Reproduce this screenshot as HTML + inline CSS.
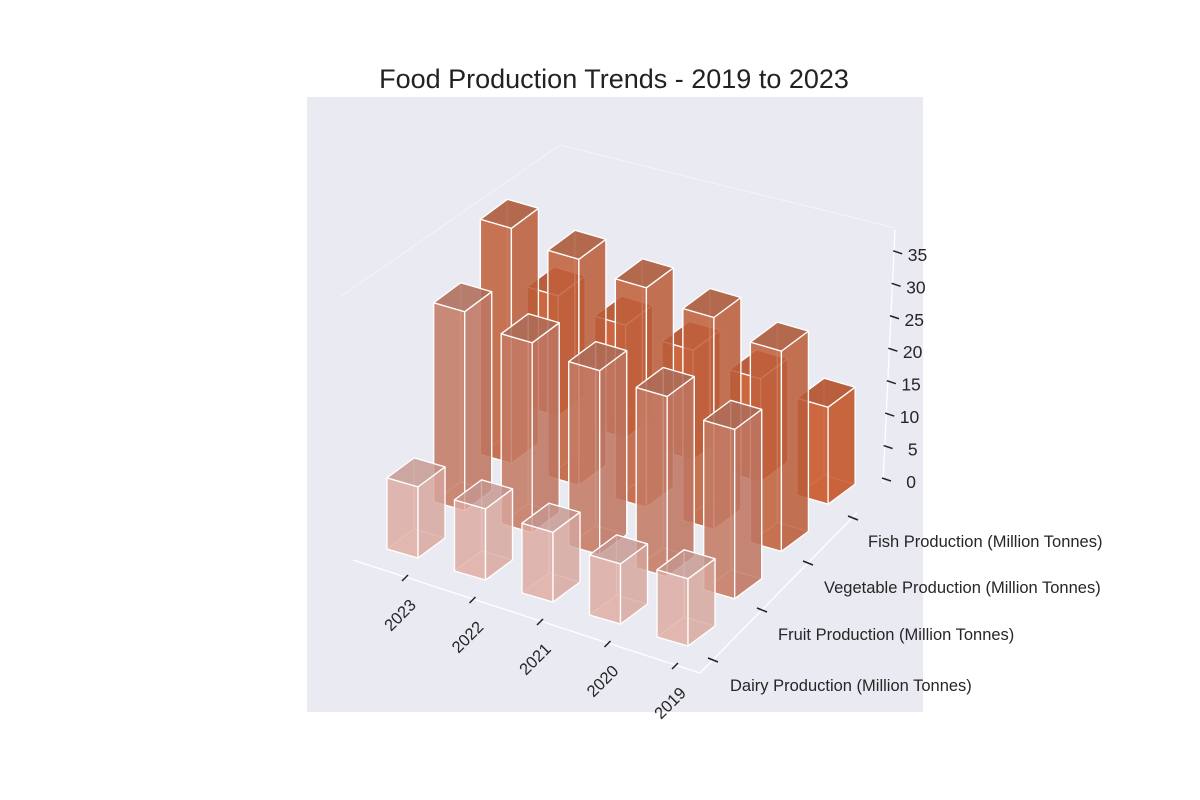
<!DOCTYPE html>
<html><head><meta charset="utf-8"><style>
body{margin:0;background:#fff;}
svg{display:block;font-family:"Liberation Sans",Arial,sans-serif;}
</style></head><body>
<svg width="1200" height="800" viewBox="0 0 1200 800">
<rect x="307" y="97" width="616" height="615" fill="#eaeaf2"/>
<text x="614" y="88" font-size="27" text-anchor="middle" fill="#222">Food Production Trends - 2019 to 2023</text>
<g id="grid" stroke="#f4f4f8" stroke-width="1" fill="none">
<polyline points="340,297 560,145 895,228"/>
</g>
<g id="axes"></g>
<g id="bars"></g>
<g id="labels"></g>
</svg>
<script>
const years = ["2023","2022","2021","2020","2019"];
const categories = ["Dairy Production (Million Tonnes)","Fruit Production (Million Tonnes)","Vegetable Production (Million Tonnes)","Fish Production (Million Tonnes)"];
const dairy = [11, 11, 10.8, 9.3, 10.4];
const fruit = [30.8, 29.4, 28.5, 27.9, 26.2];
const vegetable = [36.4, 35, 34, 32.8, 31];
const fish = [18.6, 17.5, 17, 16, 15];
const zTicks = [0,5,10,15,20,25,30,35];

const series = [dairy, fruit, vegetable, fish];
const rowFill = [[222,170,160],[196,122,100],[192,96,60],[200,82,36]];
const NS = "http://www.w3.org/2000/svg";
const ex = [67.5, 22], ey = [46.7, -47.3], wx = [31, 9], wy = [27, -20], zs = 6.46;
function base(i, j){ return [418 + i*ex[0] + j*ey[0], 558 + i*ex[1] + j*ey[1]]; }
function pt(p, h){ return [p[0], p[1] - h*zs]; }
function poly(g, pts, fill, stroke, op, name){
  const e = document.createElementNS(NS, "polygon");
  e.setAttribute("points", pts.map(p => p[0].toFixed(1)+","+p[1].toFixed(1)).join(" "));
  e.setAttribute("fill", fill);
  e.setAttribute("fill-opacity", op);
  e.setAttribute("stroke", stroke);
  e.setAttribute("stroke-width", "1.3");
  e.setAttribute("stroke-linejoin", "round");
  
  
  g.appendChild(e);
}
function shade(c, f){ return "rgb(" + c.map(v => Math.min(255, Math.round(v*f))).join(",") + ")"; }
const bars = document.getElementById("bars");
for (let j = 3; j >= 0; j--) {
  for (let i = 0; i < 5; i++) {
    const h = series[j][i];
    const F = base(i, j);
    const L = [F[0]-wx[0], F[1]-wx[1]];
    const R = [F[0]+wy[0], F[1]+wy[1]];
    const B = [L[0]+wy[0], L[1]+wy[1]];
    const g = document.createElementNS(NS, "g");
    
    
    bars.appendChild(g);
    const c = rowFill[j];
    const st = "rgba(255,255,255,0.6)";
    const op = j === 0 ? 0.72 : 0.8;
    poly(g, [L,F,R,B], shade(c,1.05), st, op*0.5, 'bar-bottom');
    poly(g, [L,B,pt(B,h),pt(L,h)], shade(c,0.95), st, op*0.4, 'bar-left-back');
    poly(g, [B,R,pt(R,h),pt(B,h)], shade(c,0.95), st, op*0.4, 'bar-back');
    poly(g, [L,F,pt(F,h),pt(L,h)], shade(c,1.0), "#fff", op, 'bar-front');
    poly(g, [F,R,pt(R,h),pt(F,h)], shade(c,0.97), "#fff", op, 'bar-side');
    poly(g, [pt(L,h),pt(F,h),pt(R,h),pt(B,h)], shade(c,0.88), "#fff", op, 'bar-top');
  }
}
const axes = document.getElementById("axes");
function line(g, x1,y1,x2,y2, col, w, name){
  const e = document.createElementNS(NS, "line");
  e.setAttribute("x1",x1); e.setAttribute("y1",y1); e.setAttribute("x2",x2); e.setAttribute("y2",y2);
  e.setAttribute("stroke",col); e.setAttribute("stroke-width",w);
  
  
  g.appendChild(e);
}
line(axes, 353,560,700,673,"#fff",1.3,'x-axis-line');
line(axes, 700,673,857,513,"#fff",1.3,'y-axis-line');
line(axes, 883,483,895,230,"#fff",1.3,'z-axis-line');
const labels = document.getElementById("labels");
function text(x,y,s,size,anchor,rot,name){
  const e = document.createElementNS(NS, "text");
  e.setAttribute("x",x); e.setAttribute("y",y);
  e.setAttribute("font-size",size); e.setAttribute("text-anchor",anchor);
  e.setAttribute("fill","#262626");
  if (rot) e.setAttribute("transform","rotate("+rot+" "+x+" "+y+")");
  e.textContent = s;
  
  
  labels.appendChild(e);
}
years.forEach((y,i) => {
  const tx = 405 + i*ex[0], ty = 578 + i*ex[1];
  line(labels, tx-3,ty+3,tx+3,ty-3,"#222",1.5,'x-tick');
  text(tx+12, ty+28, y, 16.5, "end", -45, 'x-tick-label');
});
const catTick = [[713,660],[762,610],[808,563],[853,518]];
const catLab = [[730,691],[778,640],[824,593],[868,547]];
categories.forEach((c,j) => {
  const [tx,ty] = catTick[j];
  line(labels, tx-5,ty-2,tx+5,ty+2,"#222",1.5,'y-tick');
  text(catLab[j][0], catLab[j][1], c, 16.5, "start", 0, 'y-tick-label');
});
zTicks.forEach(v => {
  const y = 480 - v*6.49, x = 884 + v*0.32;
  line(labels, x-2, y-2, x+7, y+1, "#222", 1.5, 'z-tick');
  text(x+32, y+8, String(v), 17.5, "end", 0, 'z-tick-label');
});
</script>
</body></html>
